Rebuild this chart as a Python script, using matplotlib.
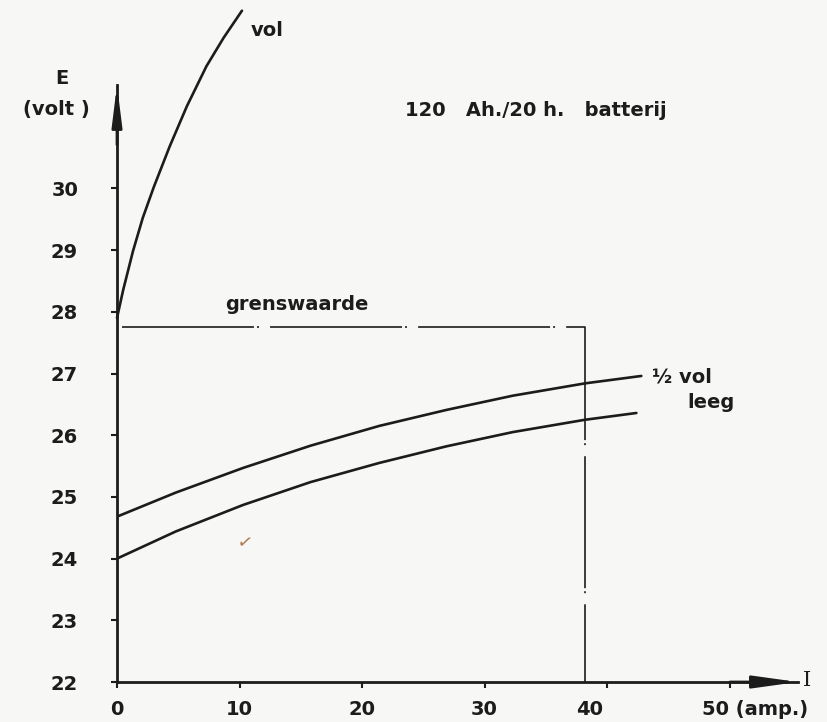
import numpy as np
import matplotlib
matplotlib.use("Agg")
import matplotlib.pyplot as plt
from matplotlib.transforms import ScaledTranslation

# --- data -----------------------------------------------------------------
x_ticks = [0, 10, 20, 30, 40, 50]
x_tick_labels = ["0", "10", "20", "30", "40", "50 (amp.)"]
y_ticks = [22, 23, 24, 25, 26, 27, 28, 29, 30]

# battery voltage E (volt) against current I (amp.) for three charge states
vol_I = [0, 0.5, 1.3, 2.1, 3.0, 4.3, 5.7, 7.3, 8.7, 10.2]
vol_E = [27.9, 28.35, 28.98, 29.52, 30.02, 30.68, 31.33, 31.98, 32.44, 32.88]

half_I = [0, 4.8, 10.3, 15.8, 21.4, 26.9, 32.3, 38.2, 42.8]
half_E = [24.68, 25.07, 25.47, 25.83, 26.15, 26.41, 26.64, 26.84, 26.96]

leeg_I = [0, 4.8, 10.3, 15.8, 21.4, 26.9, 32.3, 38.2, 42.4]
leeg_E = [24.0, 24.44, 24.87, 25.24, 25.55, 25.82, 26.05, 26.25, 26.36]

# limit value (grenswaarde)
grens_I = [0.4, 38.2, 38.2]
grens_E = [27.75, 27.75, 22.0]

W, H = 827, 722
INK = "#1c1c1c"
PAPER = "#f7f7f5"
FONT = "DejaVu Sans"

plt.rcParams["lines.scale_dashes"] = False

fig = plt.figure(figsize=(W / 100, H / 100), dpi=100, facecolor=PAPER)
ax = fig.add_axes([117 / W, 40 / H, 681 / W, 597 / H])
ax.set_facecolor("none")
ax.set_xlim(0, 681 / 12.25)
ax.set_ylim(22, 22 + 597 / 61.7)

for s in ["top", "right"]:
    ax.spines[s].set_visible(False)
for s in ["left", "bottom"]:
    ax.spines[s].set_linewidth(2.0)
    ax.spines[s].set_color(INK)

ax.set_xticks(x_ticks)
ax.set_xticklabels(x_tick_labels)
ax.set_yticks(y_ticks)
ax.set_yticklabels([str(v) for v in y_ticks])
ax.tick_params(axis="both", colors=INK, width=1.5, length=4, direction="out",
               labelsize=14)
ax.tick_params(axis="y", pad=24)
ax.tick_params(axis="x", pad=9)
for lbl in ax.get_xticklabels() + ax.get_yticklabels():
    lbl.set_fontfamily(FONT)
    lbl.set_fontweight("bold")
    lbl.set_color(INK)

# hand-placed labels for 40 and 50 (amp.)
xl = ax.get_xticklabels()
xl[4].set_transform(xl[4].get_transform() + ScaledTranslation(-17 / 100, 0, fig.dpi_scale_trans))
xl[5].set_horizontalalignment("left")
xl[5].set_transform(xl[5].get_transform() + ScaledTranslation(-28 / 100, 0, fig.dpi_scale_trans))

# axis arrowheads
ax.annotate("", xy=(0, 1.0), xytext=(0, 0.9), xycoords="axes fraction",
            arrowprops=dict(arrowstyle="-|>,head_length=1.6,head_width=0.2",
                            mutation_scale=15, color=INK, lw=2.0,
                            shrinkA=0, shrinkB=0))
ax.annotate("", xy=(1.0, 0), xytext=(0.9, 0), xycoords="axes fraction",
            arrowprops=dict(arrowstyle="-|>,head_length=1.8,head_width=0.25",
                            mutation_scale=15, color=INK, lw=2.0,
                            shrinkA=0, shrinkB=0))

# curves
ax.plot(vol_I, vol_E, color=INK, lw=1.9, clip_on=False, solid_capstyle="round",
        solid_joinstyle="round")
ax.plot(half_I, half_E, color=INK, lw=1.9, solid_capstyle="round",
        solid_joinstyle="round")
ax.plot(leeg_I, leeg_E, color=INK, lw=1.9, solid_capstyle="round",
        solid_joinstyle="round")
ax.plot(grens_I, grens_E, color=INK, lw=1.2,
        linestyle=(0, (95, 2.2, 1.4, 8)), dash_capstyle="butt")


def ftext(x, y, s, size=14, ha="left", va="center", **kw):
    kw.setdefault("family", FONT)
    kw.setdefault("weight", "bold")
    fig.text(x / W, 1 - y / H, s, fontsize=size, ha=ha, va=va, color=INK, **kw)


ftext(62, 78, "E", ha="center")
ftext(56, 110, "(volt )", ha="center")
ftext(251, 30, "vol")
ftext(405, 111, "120   Ah./20 h.   batterij")
ftext(225, 304, "grenswaarde")
ftext(652, 377, "½ vol")
ftext(687, 403, "leeg")
ftext(803, 680, "I", family="DejaVu Serif", weight="normal", size=15)
fig.text(244 / W, 1 - 543 / H, "✓", fontsize=13, color="#b07850",
         ha="center", va="center", rotation=-10, family="DejaVu Sans")

fig.savefig("out.png", dpi=100, facecolor=PAPER)
